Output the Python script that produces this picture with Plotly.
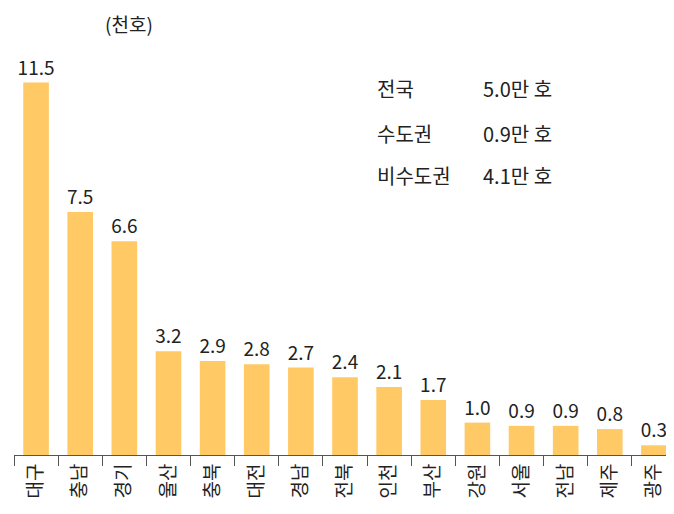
import plotly.graph_objects as go

regions = ["대구", "충남", "경기", "울산", "충북", "대전", "경남", "전북", "인천", "부산", "강원", "서울", "전남", "제주", "광주"]
values = [11.5, 7.5, 6.6, 3.2, 2.9, 2.8, 2.7, 2.4, 2.1, 1.7, 1.0, 0.9, 0.9, 0.8, 0.3]
summary_names = ["전국", "수도권", "비수도권"]
summary_values = ["5.0만 호", "0.9만 호", "4.1만 호"]
summary_y = [11.33, 9.94, 8.64]

font = "Noto Sans CJK KR"

fig = go.Figure()
fig.add_trace(go.Bar(
    x=regions, y=values,
    marker=dict(color="#FFC966", line=dict(width=0)),
    text=[f"{v:.1f}" for v in values], textposition="outside",
    constraintext="none",
    textfont=dict(size=19, color="#222", family=font),
    cliponaxis=False,
))

fig.update_layout(
    width=674, height=514,
    margin=dict(l=6, r=6, t=0, b=67),
    plot_bgcolor="white", paper_bgcolor="white",
    showlegend=False, bargap=0.42,
    font=dict(family=font, color="#222"),
)
fig.update_xaxes(
    showline=True, linecolor="#555", linewidth=1,
    ticks="outside", tickson="boundaries", ticklen=10, tickcolor="#555",
    tickangle=-90, tickfont=dict(size=19, family=font),
)
fig.update_yaxes(range=[0, 13.8], visible=False)

fig.add_annotation(xref="paper", yref="paper", x=0.135, y=1.0, yanchor="top",
                   text="(천호)", showarrow=False, font=dict(size=19))
for n, v, yy in zip(summary_names, summary_values, summary_y):
    fig.add_annotation(xref="paper", yref="y", x=0.545, y=yy, xanchor="left",
                       yanchor="middle", text=n, showarrow=False, font=dict(size=20))
    fig.add_annotation(xref="paper", yref="y", x=0.705, y=yy, xanchor="left",
                       yanchor="middle", text=v, showarrow=False, font=dict(size=20))

fig.write_html("out.html")
